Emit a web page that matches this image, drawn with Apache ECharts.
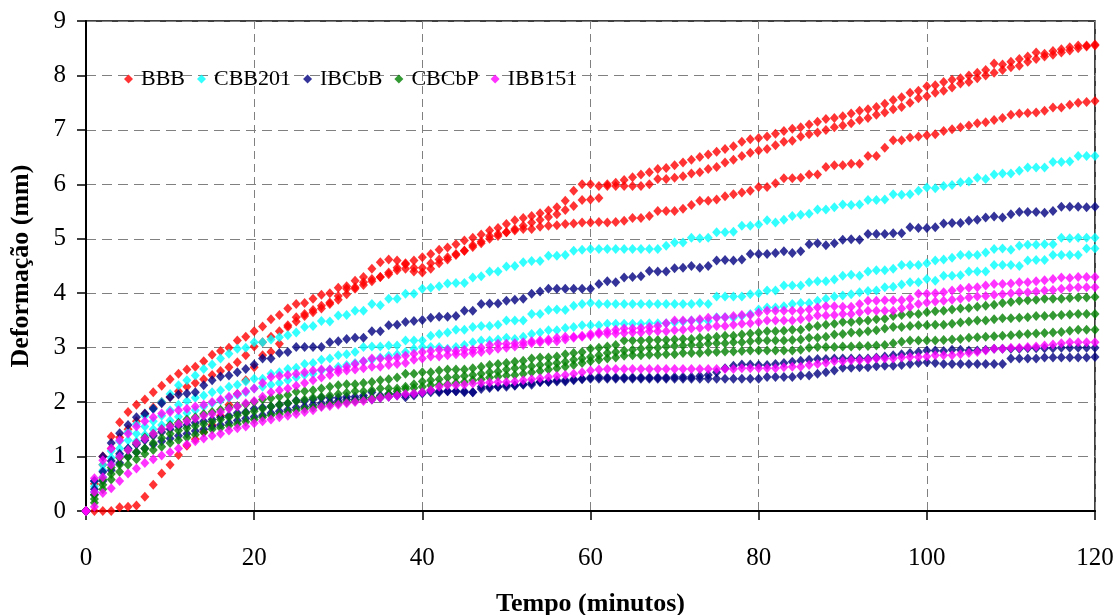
<!DOCTYPE html>
<html>
<head>
<meta charset="utf-8">
<script src="https://cdn.jsdelivr.net/npm/echarts@6/dist/echarts.min.js"></script>
<style>
  html, body { margin: 0; padding: 0; background: #fff; }
  #chart { width: 1113px; height: 615px; }
</style>
</head>
<body>
<div id="chart"></div>
<script>
// Readings taken once per minute, 0..120 min
const minutes = [];
for (let m = 0; m <= 120; m++) minutes.push(m);

const xTicks = [0, 20, 40, 60, 80, 100, 120];
const yTicks = [0, 1, 2, 3, 4, 5, 6, 7, 8, 9];

// BBB specimens (mm)
const bbb1 = [0,0.55,1.00,1.37,1.63,1.82,1.95,2.05,2.18,2.30,2.42,
  2.52,2.60,2.65,2.75,2.87,2.94,3.00,3.13,3.20,3.30,
  3.39,3.52,3.60,3.72,3.80,3.82,3.90,3.97,4.00,4.10,
  4.13,4.23,4.30,4.45,4.57,4.62,4.60,4.55,4.60,4.66,
  4.72,4.80,4.84,4.90,4.97,5.02,5.08,5.15,5.20,5.27,
  5.34,5.38,5.42,5.47,5.52,5.58,5.70,5.88,6.00,6.00,
  5.97,6.00,6.03,6.08,6.13,6.18,6.22,6.28,6.30,6.35,
  6.40,6.45,6.50,6.55,6.60,6.65,6.70,6.78,6.83,6.85,
  6.88,6.93,6.98,7.02,7.05,7.10,7.15,7.20,7.22,7.25,
  7.30,7.35,7.38,7.42,7.48,7.55,7.60,7.68,7.72,7.80,
  7.82,7.88,7.92,7.95,8.00,8.05,8.10,8.22,8.20,8.25,
  8.30,8.35,8.42,8.40,8.45,8.48,8.52,8.55,8.55,8.57];
const bbb2 = [0,0,0,0,0.07,0.08,0.10,0.26,0.48,0.69,0.85,
  1.03,1.20,1.32,1.45,1.58,1.75,1.95,2.15,2.40,2.64,
  2.86,2.92,3.07,3.41,3.56,3.62,3.69,3.77,3.83,3.95,
  4.08,4.11,4.20,4.26,4.30,4.38,4.47,4.53,4.47,4.47,
  4.55,4.62,4.66,4.72,4.78,4.85,4.92,5.00,5.05,5.12,
  5.18,5.24,5.30,5.35,5.40,5.45,5.53,5.60,5.71,5.72,
  5.75,5.97,5.97,5.97,5.97,5.97,6.00,6.10,6.10,6.12,
  6.15,6.20,6.22,6.28,6.32,6.40,6.45,6.52,6.58,6.62,
  6.65,6.72,6.78,6.80,6.88,6.92,6.95,7.00,7.05,7.08,
  7.12,7.18,7.22,7.28,7.32,7.38,7.42,7.50,7.58,7.62,
  7.68,7.72,7.78,7.85,7.88,7.95,8.00,8.05,8.10,8.15,
  8.18,8.25,8.30,8.35,8.38,8.42,8.46,8.50,8.53,8.55];
const bbb3 = [0,0.50,0.85,1.15,1.35,1.50,1.65,1.78,1.90,2.00,2.10,
  2.20,2.28,2.35,2.42,2.50,2.57,2.64,2.73,2.86,3.02,
  3.10,3.20,3.30,3.38,3.48,3.58,3.65,3.72,3.80,3.88,
  3.98,4.08,4.15,4.22,4.30,4.35,4.42,4.45,4.40,4.38,
  4.45,4.55,4.62,4.70,4.78,4.88,4.95,5.05,5.09,5.12,
  5.15,5.18,5.18,5.22,5.24,5.25,5.27,5.28,5.30,5.30,
  5.31,5.30,5.31,5.33,5.38,5.38,5.42,5.51,5.51,5.51,
  5.55,5.62,5.70,5.70,5.72,5.78,5.82,5.85,5.88,5.95,
  5.95,6.02,6.11,6.11,6.12,6.18,6.18,6.32,6.35,6.35,
  6.38,6.38,6.52,6.52,6.67,6.81,6.81,6.86,6.88,6.90,
  6.92,6.98,7.01,7.05,7.08,7.12,7.14,7.18,7.22,7.28,
  7.30,7.31,7.32,7.35,7.41,7.41,7.46,7.50,7.51,7.53];

// CBB201 specimens (mm)
const cbb1 = [0,0.55,0.85,1.10,1.28,1.45,1.60,1.75,1.88,2.00,2.15,
  2.31,2.40,2.49,2.61,2.69,2.80,2.89,2.98,3.00,3.10,
  3.10,3.15,3.19,3.23,3.28,3.38,3.40,3.49,3.48,3.59,
  3.60,3.68,3.68,3.80,3.78,3.90,3.90,3.99,3.99,4.08,
  4.10,4.13,4.18,4.19,4.19,4.29,4.31,4.40,4.40,4.49,
  4.50,4.57,4.59,4.59,4.69,4.69,4.70,4.78,4.80,4.81,
  4.81,4.81,4.81,4.81,4.81,4.81,4.81,4.81,4.87,4.93,
  4.93,5.02,5.01,5.02,5.12,5.12,5.13,5.24,5.24,5.26,
  5.34,5.30,5.35,5.42,5.44,5.46,5.54,5.54,5.58,5.63,
  5.62,5.63,5.71,5.71,5.72,5.82,5.81,5.82,5.88,5.94,
  5.93,5.97,5.99,6.04,6.05,6.12,6.10,6.18,6.20,6.20,
  6.25,6.31,6.31,6.31,6.41,6.41,6.42,6.52,6.52,6.52];
const cbb2 = [0,0.45,0.75,0.98,1.15,1.30,1.42,1.55,1.65,1.75,1.85,
  1.95,2.02,2.08,2.12,2.18,2.22,2.28,2.32,2.38,2.43,
  2.43,2.52,2.55,2.61,2.63,2.70,2.72,2.78,2.80,2.86,
  2.88,2.92,3.01,3.02,3.02,3.04,3.04,3.13,3.13,3.13,
  3.22,3.25,3.28,3.33,3.33,3.38,3.40,3.40,3.42,3.50,
  3.50,3.50,3.62,3.62,3.69,3.70,3.69,3.77,3.80,3.82,
  3.80,3.80,3.80,3.80,3.80,3.80,3.80,3.80,3.80,3.80,
  3.80,3.80,3.82,3.80,3.94,3.94,3.94,3.94,3.98,4.00,
  4.05,4.05,4.14,4.14,4.14,4.20,4.22,4.22,4.25,4.32,
  4.34,4.32,4.40,4.42,4.42,4.45,4.52,4.52,4.52,4.55,
  4.60,4.62,4.65,4.70,4.70,4.70,4.75,4.81,4.82,4.80,
  4.87,4.89,4.89,4.90,4.90,5.02,5.01,5.02,5.02,5.02];
const cbb3 = [0,0.35,0.62,0.85,1.02,1.15,1.28,1.40,1.50,1.58,1.66,
  1.73,1.80,1.85,1.92,1.98,2.03,2.08,2.13,2.18,2.25,
  2.28,2.32,2.35,2.40,2.45,2.50,2.52,2.58,2.60,2.65,
  2.68,2.72,2.75,2.78,2.82,2.85,2.88,2.92,2.98,3.01,
  3.01,3.01,2.98,3.01,3.05,3.10,3.13,3.13,3.15,3.18,
  3.16,3.20,3.25,3.28,3.32,3.32,3.36,3.38,3.41,3.41,
  3.41,3.44,3.44,3.44,3.44,3.44,3.45,3.45,3.45,3.46,
  3.48,3.50,3.50,3.49,3.56,3.56,3.55,3.58,3.62,3.70,
  3.74,3.74,3.76,3.80,3.82,3.82,3.86,3.90,3.94,3.96,
  3.98,4.02,4.04,4.05,4.11,4.12,4.16,4.20,4.20,4.26,
  4.23,4.32,4.32,4.33,4.40,4.40,4.40,4.52,4.52,4.52,
  4.50,4.60,4.61,4.61,4.70,4.70,4.70,4.70,4.82,4.82];

// IBCbB specimens (mm)
const ibcbb1 = [0,0.55,1.00,1.25,1.43,1.58,1.72,1.79,1.88,1.98,2.09,
  2.14,2.16,2.18,2.31,2.40,2.47,2.49,2.55,2.61,2.69,
  2.80,2.80,2.90,2.92,3.01,3.01,3.01,3.01,3.10,3.12,
  3.16,3.18,3.18,3.30,3.30,3.41,3.42,3.47,3.49,3.51,
  3.55,3.57,3.57,3.58,3.68,3.68,3.80,3.81,3.81,3.86,
  3.88,3.90,3.99,4.03,4.08,4.08,4.08,4.08,4.08,4.08,
  4.17,4.22,4.20,4.29,4.30,4.31,4.41,4.40,4.40,4.46,
  4.47,4.50,4.47,4.50,4.60,4.61,4.60,4.62,4.72,4.72,
  4.72,4.74,4.77,4.74,4.77,4.90,4.92,4.88,4.92,4.98,
  4.99,4.98,5.09,5.09,5.09,5.10,5.10,5.21,5.20,5.20,
  5.21,5.28,5.29,5.29,5.33,5.35,5.39,5.41,5.39,5.45,
  5.49,5.49,5.49,5.48,5.51,5.59,5.59,5.59,5.58,5.59];
const ibcbb2 = [0,0.40,0.72,0.92,1.05,1.15,1.22,1.30,1.38,1.45,1.50,
  1.55,1.58,1.62,1.65,1.68,1.72,1.75,1.80,1.82,1.88,
  1.90,1.92,1.95,1.98,2.03,2.02,2.05,2.08,2.08,2.08,
  2.10,2.10,2.12,2.18,2.12,2.15,2.15,2.09,2.12,2.18,
  2.22,2.20,2.20,2.20,2.20,2.18,2.28,2.28,2.28,2.31,
  2.31,2.33,2.35,2.37,2.38,2.40,2.40,2.42,2.43,2.45,
  2.46,2.45,2.45,2.45,2.45,2.45,2.45,2.45,2.45,2.46,
  2.46,2.46,2.48,2.50,2.55,2.62,2.67,2.69,2.69,2.68,
  2.68,2.70,2.72,2.74,2.76,2.78,2.79,2.79,2.80,2.80,
  2.80,2.80,2.80,2.82,2.84,2.86,2.88,2.90,2.92,2.95,
  2.95,2.94,2.96,2.96,2.95,2.95,2.96,2.98,2.98,2.98,
  2.98,2.99,2.99,2.99,2.99,3.00,3.00,3.00,3.00,3.00];
const ibcbb3 = [0,0.30,0.55,0.75,0.88,1.00,1.08,1.15,1.22,1.28,1.33,
  1.38,1.42,1.47,1.50,1.55,1.58,1.62,1.66,1.70,1.73,
  1.76,1.80,1.83,1.86,1.90,1.92,1.95,1.98,2.00,2.02,
  2.05,2.05,2.08,2.05,2.08,2.10,2.12,2.13,2.15,2.16,
  2.18,2.18,2.20,2.20,2.18,2.18,2.24,2.26,2.28,2.28,
  2.30,2.32,2.32,2.37,2.37,2.38,2.38,2.40,2.42,2.43,
  2.43,2.43,2.43,2.43,2.43,2.43,2.43,2.43,2.43,2.43,
  2.43,2.43,2.43,2.43,2.43,2.43,2.43,2.43,2.43,2.43,
  2.46,2.46,2.46,2.46,2.49,2.49,2.52,2.55,2.58,2.63,
  2.63,2.64,2.64,2.66,2.67,2.67,2.68,2.70,2.72,2.73,
  2.72,2.70,2.70,2.70,2.70,2.70,2.70,2.70,2.70,2.80,
  2.80,2.80,2.80,2.82,2.82,2.82,2.82,2.82,2.82,2.83];

// CBCbP specimens (mm)
const cbcbp1 = [0,0.30,0.58,0.80,0.98,1.12,1.25,1.35,1.42,1.50,1.58,
  1.62,1.68,1.72,1.78,1.82,1.86,1.90,1.93,1.96,2.00,
  2.05,2.07,2.10,2.13,2.19,2.20,2.22,2.25,2.28,2.31,
  2.33,2.33,2.35,2.37,2.40,2.42,2.45,2.52,2.52,2.55,
  2.55,2.58,2.60,2.60,2.60,2.62,2.65,2.68,2.70,2.72,
  2.74,2.76,2.80,2.82,2.82,2.84,2.88,2.90,2.92,2.98,
  3.00,3.02,3.05,3.13,3.13,3.13,3.14,3.14,3.14,3.15,
  3.16,3.16,3.18,3.18,3.20,3.22,3.22,3.24,3.26,3.28,
  3.30,3.30,3.31,3.33,3.33,3.38,3.40,3.42,3.44,3.47,
  3.47,3.49,3.50,3.52,3.53,3.58,3.60,3.62,3.62,3.65,
  3.67,3.68,3.70,3.72,3.73,3.75,3.77,3.79,3.82,3.84,
  3.86,3.87,3.88,3.90,3.90,3.90,3.91,3.92,3.92,3.93];
const cbcbp2 = [0,0.22,0.48,0.68,0.85,0.99,1.08,1.15,1.25,1.34,1.42,
  1.48,1.52,1.56,1.60,1.64,1.68,1.72,1.76,1.80,1.83,
  1.88,1.92,1.95,1.98,2.02,2.05,2.08,2.10,2.12,2.15,
  2.17,2.20,2.20,2.22,2.25,2.25,2.25,2.28,2.33,2.38,
  2.40,2.42,2.45,2.46,2.48,2.50,2.52,2.55,2.56,2.60,
  2.62,2.64,2.66,2.68,2.70,2.72,2.74,2.78,2.80,2.83,
  2.86,2.90,2.92,2.95,2.96,2.98,3.00,3.00,3.02,3.03,
  3.04,3.05,3.05,3.07,3.08,3.08,3.10,3.10,3.12,3.13,
  3.13,3.13,3.13,3.14,3.15,3.18,3.18,3.20,3.24,3.25,
  3.28,3.28,3.30,3.32,3.35,3.38,3.38,3.40,3.41,3.41,
  3.42,3.42,3.44,3.46,3.48,3.50,3.50,3.52,3.54,3.54,
  3.55,3.56,3.58,3.58,3.59,3.60,3.61,3.62,3.62,3.62];
const cbcbp3 = [0,0.15,0.40,0.58,0.72,0.85,0.95,1.05,1.12,1.18,1.25,
  1.30,1.35,1.40,1.44,1.50,1.53,1.57,1.60,1.64,1.68,
  1.72,1.76,1.78,1.82,1.85,1.88,1.90,1.93,1.96,1.98,
  2.00,2.02,2.05,2.08,2.10,2.15,2.20,2.24,2.26,2.28,
  2.31,2.32,2.33,2.35,2.37,2.40,2.42,2.45,2.47,2.49,
  2.50,2.52,2.55,2.57,2.60,2.62,2.65,2.68,2.72,2.75,
  2.78,2.80,2.82,2.85,2.86,2.86,2.87,2.87,2.88,2.88,
  2.90,2.90,2.90,2.92,2.92,2.93,2.93,2.94,2.95,2.95,
  2.95,2.95,2.95,2.95,2.96,3.00,3.01,3.01,3.01,3.02,
  3.02,3.03,3.03,3.04,3.05,3.08,3.11,3.13,3.13,3.13,
  3.13,3.14,3.15,3.16,3.18,3.19,3.20,3.21,3.22,3.23,
  3.24,3.25,3.26,3.27,3.28,3.29,3.31,3.33,3.33,3.33];

// IBB151 specimens (mm)
const ibb1 = [0,0.60,0.93,1.15,1.30,1.42,1.55,1.65,1.72,1.79,1.82,
  1.85,1.88,1.92,1.95,2.00,2.05,2.10,2.15,2.20,2.25,
  2.35,2.46,2.48,2.50,2.52,2.55,2.58,2.60,2.60,2.60,
  2.65,2.70,2.75,2.80,2.80,2.80,2.82,2.85,2.89,2.92,
  2.94,2.96,2.96,2.94,2.96,2.96,3.00,3.05,3.07,3.07,
  3.08,3.10,3.12,3.13,3.15,3.18,3.20,3.20,3.22,3.25,
  3.28,3.30,3.33,3.35,3.35,3.36,3.38,3.40,3.45,3.50,
  3.50,3.50,3.52,3.55,3.55,3.56,3.58,3.60,3.60,3.64,
  3.68,3.68,3.68,3.68,3.68,3.70,3.74,3.76,3.76,3.75,
  3.75,3.80,3.86,3.86,3.87,3.87,3.87,3.90,3.99,3.99,
  4.00,4.02,4.05,4.08,4.10,4.11,4.14,4.17,4.17,4.18,
  4.20,4.20,4.22,4.24,4.26,4.29,4.28,4.30,4.30,4.30];
const ibb2 = [0,0.35,0.62,0.85,1.00,1.12,1.25,1.33,1.42,1.50,1.55,
  1.60,1.65,1.70,1.75,1.78,1.82,1.88,1.92,1.98,2.02,
  2.10,2.18,2.22,2.25,2.30,2.35,2.40,2.45,2.50,2.55,
  2.58,2.60,2.62,2.65,2.65,2.68,2.70,2.72,2.78,2.80,
  2.84,2.84,2.86,2.88,2.88,2.90,2.92,2.95,2.98,3.00,
  3.02,3.05,3.08,3.10,3.12,3.12,3.15,3.18,3.20,3.22,
  3.25,3.25,3.26,3.27,3.28,3.28,3.30,3.30,3.30,3.32,
  3.33,3.35,3.36,3.38,3.40,3.40,3.42,3.44,3.45,3.47,
  3.50,3.50,3.50,3.50,3.52,3.55,3.59,3.59,3.60,3.62,
  3.62,3.65,3.68,3.68,3.68,3.68,3.72,3.75,3.80,3.83,
  3.85,3.86,3.88,3.90,3.92,3.94,3.95,3.97,3.98,4.00,
  4.02,4.02,4.03,4.05,4.06,4.08,4.10,4.11,4.11,4.11];
const ibb3 = [0,0.08,0.33,0.42,0.55,0.69,0.78,0.88,0.95,1.02,1.08,
  1.15,1.22,1.28,1.33,1.38,1.42,1.48,1.52,1.55,1.61,
  1.65,1.68,1.72,1.75,1.78,1.82,1.85,1.91,1.93,1.95,
  1.98,2.00,2.02,2.05,2.08,2.10,2.12,2.15,2.16,2.18,
  2.22,2.28,2.31,2.31,2.32,2.34,2.35,2.36,2.37,2.37,
  2.38,2.40,2.42,2.44,2.46,2.48,2.50,2.52,2.55,2.58,
  2.60,2.61,2.61,2.61,2.61,2.61,2.61,2.61,2.61,2.61,
  2.61,2.61,2.61,2.61,2.61,2.61,2.61,2.62,2.62,2.62,
  2.62,2.62,2.64,2.65,2.65,2.68,2.70,2.72,2.75,2.75,
  2.77,2.77,2.78,2.80,2.80,2.80,2.82,2.83,2.83,2.84,
  2.86,2.86,2.86,2.88,2.90,2.92,2.95,2.98,2.98,3.00,
  3.00,3.01,3.02,3.04,3.06,3.08,3.10,3.10,3.10,3.10];

const groups = [
  { name: 'BBB',    color: '#FF0000', curves: [bbb1, bbb2, bbb3] },
  { name: 'CBB201', color: '#00FFFF', curves: [cbb1, cbb2, cbb3] },
  { name: 'IBCbB',  color: '#000080', curves: [ibcbb1, ibcbb2, ibcbb3] },
  { name: 'CBCbP',  color: '#008000', curves: [cbcbp1, cbcbp2, cbcbp3] },
  { name: 'IBB151', color: '#FF00FF', curves: [ibb1, ibb2, ibb3] }
];

const serif = '"Liberation Serif", "Times New Roman", serif';

const series = [];
groups.forEach(g => {
  g.curves.forEach(c => {
    series.push({
      type: 'scatter',
      name: g.name,
      symbol: 'diamond',
      symbolSize: [9, 10],
      itemStyle: { color: g.color },
      silent: true,
      animation: false,
      data: minutes.map((m, i) => [m, c[i]])
    });
  });
});

const chart = echarts.init(document.getElementById('chart'), null, { renderer: 'canvas' });
chart.setOption({
  animation: false,
  backgroundColor: '#ffffff',
  grid: {
    left: 86, right: 18, top: 21, bottom: 104,
    containLabel: false, outerBoundsMode: 'none',
    show: true, borderColor: '#000', borderWidth: 1.5, backgroundColor: 'transparent'
  },
  legend: {
    left: 119, top: 63,
    icon: 'diamond',
    itemWidth: 9, itemHeight: 9, itemGap: 12,
    textStyle: { fontFamily: serif, fontSize: 22, color: '#000', padding: [0, 0, 0, 3] },
    data: groups.map(g => ({ name: g.name, itemStyle: { color: g.color } }))
  },
  xAxis: {
    type: 'value', min: xTicks[0], max: xTicks[xTicks.length - 1], interval: 20,
    name: 'Tempo (minutos)', nameLocation: 'middle', nameGap: 80,
    nameTextStyle: { fontFamily: serif, fontSize: 26, fontWeight: 'bold', color: '#000' },
    axisLine: { show: true, onZero: false, lineStyle: { color: '#000', width: 2 } },
    axisTick: { show: true, inside: false, length: 9, lineStyle: { color: '#000', width: 1.5 } },
    axisLabel: { fontFamily: serif, fontSize: 25, color: '#000', margin: 35 },
    splitLine: { show: true, lineStyle: { color: '#808080', type: [8, 5], width: 1 } }
  },
  yAxis: {
    type: 'value', min: yTicks[0], max: yTicks[yTicks.length - 1], interval: 1,
    name: 'Deformação (mm)', nameLocation: 'middle', nameGap: 52,
    nameTextStyle: { fontFamily: serif, fontSize: 26, fontWeight: 'bold', color: '#000' },
    axisLine: { show: true, onZero: false, lineStyle: { color: '#000', width: 2 } },
    axisTick: { show: true, inside: false, length: 9, lineStyle: { color: '#000', width: 1.5 } },
    axisLabel: { fontFamily: serif, fontSize: 25, color: '#000', margin: 20 },
    splitLine: { show: true, lineStyle: { color: '#808080', type: [10, 6], width: 1 } }
  },
  series: series
});
</script>
</body>
</html>
